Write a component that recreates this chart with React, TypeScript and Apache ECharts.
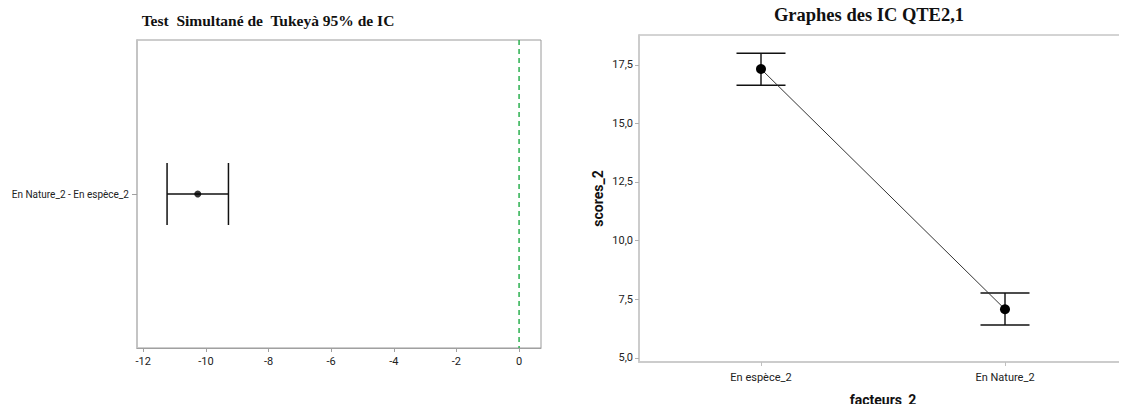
import React, { useEffect, useRef } from "react";
import * as echarts from "echarts";

const tukeyCategories = ["En Nature_2 - En espèce_2"];
const tukeyCenter = [-10.26];
const tukeyLower = [-11.24];
const tukeyUpper = [-9.28];
const tukeyZero = [0];
const leftXTicks = [-12, -10, -8, -6, -4, -2, 0];

const groupCategories = ["En espèce_2", "En Nature_2"];
const groupMeans = [17.32, 7.07];
const groupLower = [16.63, 6.4];
const groupUpper = [17.99, 7.76];
const rightYTicks = [5, 7.5, 10, 12.5, 15, 17.5];

const SANS = "Roboto, 'Open Sans', sans-serif";
const SERIF = "'Liberation Serif', 'DejaVu Serif', serif";

function buildOption(useCustomValues: boolean): any {
  const leftXLabel: any = {
    margin: 8,
    fontFamily: SANS,
    fontSize: 11,
    color: "#222",
    formatter: (v: number) => String(v),
  };
  const leftXTick: any = { show: true, length: 4, lineStyle: { color: "#a0a0a0" } };
  const rightYLabel: any = {
    margin: 6,
    fontFamily: SANS,
    fontSize: 11,
    color: "#222",
    formatter: (v: number) => v.toFixed(1).replace(".", ","),
  };
  const rightYTick: any = { show: true, length: 4, lineStyle: { color: "#b0b0b0" } };
  if (useCustomValues) {
    leftXLabel.customValues = leftXTicks;
    leftXTick.customValues = leftXTicks;
    rightYLabel.customValues = rightYTicks;
    rightYTick.customValues = rightYTicks;
  } else {
    leftXLabel.showMinLabel = false;
    leftXLabel.showMaxLabel = false;
    rightYLabel.showMinLabel = false;
    rightYLabel.showMaxLabel = false;
  }
  return {
    animation: false,
    backgroundColor: "#ffffff",
    title: [
      {
        text: "Test  Simultané de  Tukeyà 95% de IC",
        left: 263,
        top: 7,
        textAlign: "center",
        textStyle: { fontFamily: SERIF, fontWeight: "bold", fontSize: 15.5, color: "#111" },
      },
      {
        text: "Graphes des IC QTE2,1",
        left: 864,
        top: 0,
        textAlign: "center",
        textStyle: { fontFamily: SERIF, fontWeight: "bold", fontSize: 18.5, color: "#111" },
      },
    ],
    grid: [
      { left: 137, top: 40, width: 404, height: 308, show: true, borderColor: "#9a9a9a", borderWidth: 1 },
      { left: 639, top: 35, width: 499, height: 332, show: true, borderColor: "#a8a8a8", borderWidth: 1 },
    ],
    xAxis: [
      {
        type: "value",
        gridIndex: 0,
        min: -12.2,
        max: 0.7,
        splitNumber: 6,
        splitLine: { show: false },
        axisLine: { show: true, onZero: false, lineStyle: { color: "#a0a0a0", width: 1 } },
        axisTick: leftXTick,
        axisLabel: leftXLabel,
      },
      {
        type: "category",
        gridIndex: 1,
        data: groupCategories,
        boundaryGap: true,
        name: "facteurs_2",
        nameLocation: "middle",
        nameGap: 31,
        nameTextStyle: { fontFamily: SANS, fontWeight: "bold", fontSize: 14, color: "#111" },
        axisLine: { show: true, onZero: false, lineStyle: { color: "#cccccc", width: 2 } },
        axisTick: { show: true, alignWithLabel: true, length: 4, lineStyle: { color: "#c0c0c0" } },
        axisLabel: { margin: 10, fontFamily: SANS, fontSize: 11, color: "#222" },
      },
    ],
    yAxis: [
      {
        type: "category",
        gridIndex: 0,
        data: tukeyCategories,
        boundaryGap: true,
        axisLine: { show: true, onZero: false, lineStyle: { color: "#c4c4c4", width: 2 } },
        axisTick: { show: true, alignWithLabel: true, length: 5, lineStyle: { color: "#a0a0a0" } },
        axisLabel: { margin: 8, fontFamily: SANS, fontSize: 10, color: "#222" },
      },
      {
        type: "value",
        gridIndex: 1,
        min: 4.82,
        max: 18.77,
        name: "scores_2",
        nameLocation: "middle",
        nameGap: 34,
        nameTextStyle: { fontFamily: SANS, fontWeight: "bold", fontSize: 14, color: "#111" },
        splitLine: { show: false },
        axisLine: { show: true, onZero: false, lineStyle: { color: "#cccccc", width: 2 } },
        axisTick: rightYTick,
        axisLabel: rightYLabel,
      },
    ],
    series: [
      {
        type: "custom",
        xAxisIndex: 0,
        yAxisIndex: 0,
        data: tukeyZero.map((v) => [v, 0]),
        encode: { x: 0, y: 1 },
        silent: true,
        renderItem: (params: any, api: any) => {
          const p = api.coord([api.value(0), 0]);
          const cs = params.coordSys;
          return {
            type: "line",
            shape: { x1: p[0], y1: cs.y, x2: p[0], y2: cs.y + cs.height },
            style: { stroke: "#2bb04f", lineWidth: 1.5, lineDash: [5, 4] },
          };
        },
        z: 1,
      },
      {
        type: "custom",
        xAxisIndex: 0,
        yAxisIndex: 0,
        data: tukeyCategories.map((_, i) => [tukeyLower[i], tukeyUpper[i], i]),
        encode: { x: [0, 1], y: 2 },
        renderItem: (params: any, api: any) => {
          const lo = api.coord([api.value(0), api.value(2)]);
          const hi = api.coord([api.value(1), api.value(2)]);
          const h = 31;
          const st = { stroke: "#111", lineWidth: 1.5 };
          return {
            type: "group",
            children: [
              { type: "line", shape: { x1: lo[0], y1: lo[1], x2: hi[0], y2: hi[1] }, style: st },
              { type: "line", shape: { x1: lo[0], y1: lo[1] - h, x2: lo[0], y2: lo[1] + h }, style: st },
              { type: "line", shape: { x1: hi[0], y1: hi[1] - h, x2: hi[0], y2: hi[1] + h }, style: st },
            ],
          };
        },
        z: 2,
      },
      {
        type: "scatter",
        xAxisIndex: 0,
        yAxisIndex: 0,
        data: tukeyCenter.map((v, i) => [v, i]),
        symbol: "circle",
        symbolSize: 7,
        itemStyle: { color: "#000" },
        z: 3,
      },
      {
        type: "custom",
        xAxisIndex: 1,
        yAxisIndex: 1,
        data: groupCategories.map((_, i) => [i, groupLower[i], groupUpper[i]]),
        encode: { x: 0, y: [1, 2] },
        renderItem: (params: any, api: any) => {
          const lo = api.coord([api.value(0), api.value(1)]);
          const hi = api.coord([api.value(0), api.value(2)]);
          const w = 24.5;
          const cap = { stroke: "#111", lineWidth: 1.5 };
          return {
            type: "group",
            children: [
              { type: "line", shape: { x1: lo[0], y1: lo[1], x2: hi[0], y2: hi[1] }, style: { stroke: "#555", lineWidth: 2 } },
              { type: "line", shape: { x1: lo[0] - w, y1: lo[1], x2: lo[0] + w, y2: lo[1] }, style: cap },
              { type: "line", shape: { x1: hi[0] - w, y1: hi[1], x2: hi[0] + w, y2: hi[1] }, style: cap },
            ],
          };
        },
        z: 2,
      },
      {
        type: "line",
        xAxisIndex: 1,
        yAxisIndex: 1,
        data: groupMeans,
        symbol: "circle",
        symbolSize: 10,
        showSymbol: true,
        lineStyle: { color: "#333", width: 1 },
        itemStyle: { color: "#000" },
        z: 3,
      },
    ],
  };
}

export default function App() {
  const ref = useRef<HTMLDivElement>(null);
  useEffect(() => {
    if (!ref.current) return;
    let chart = echarts.init(ref.current, null, { renderer: "svg" });
    try {
      chart.setOption(buildOption(true));
    } catch (e) {
      console.error("primary option failed", e);
      chart.dispose();
      chart = echarts.init(ref.current, null, { renderer: "svg" });
      chart.setOption(buildOption(false));
    }
    return () => chart.dispose();
  }, []);
  return <div ref={ref} style={{ width: 1127, height: 412, margin: -8 }} />;
}
